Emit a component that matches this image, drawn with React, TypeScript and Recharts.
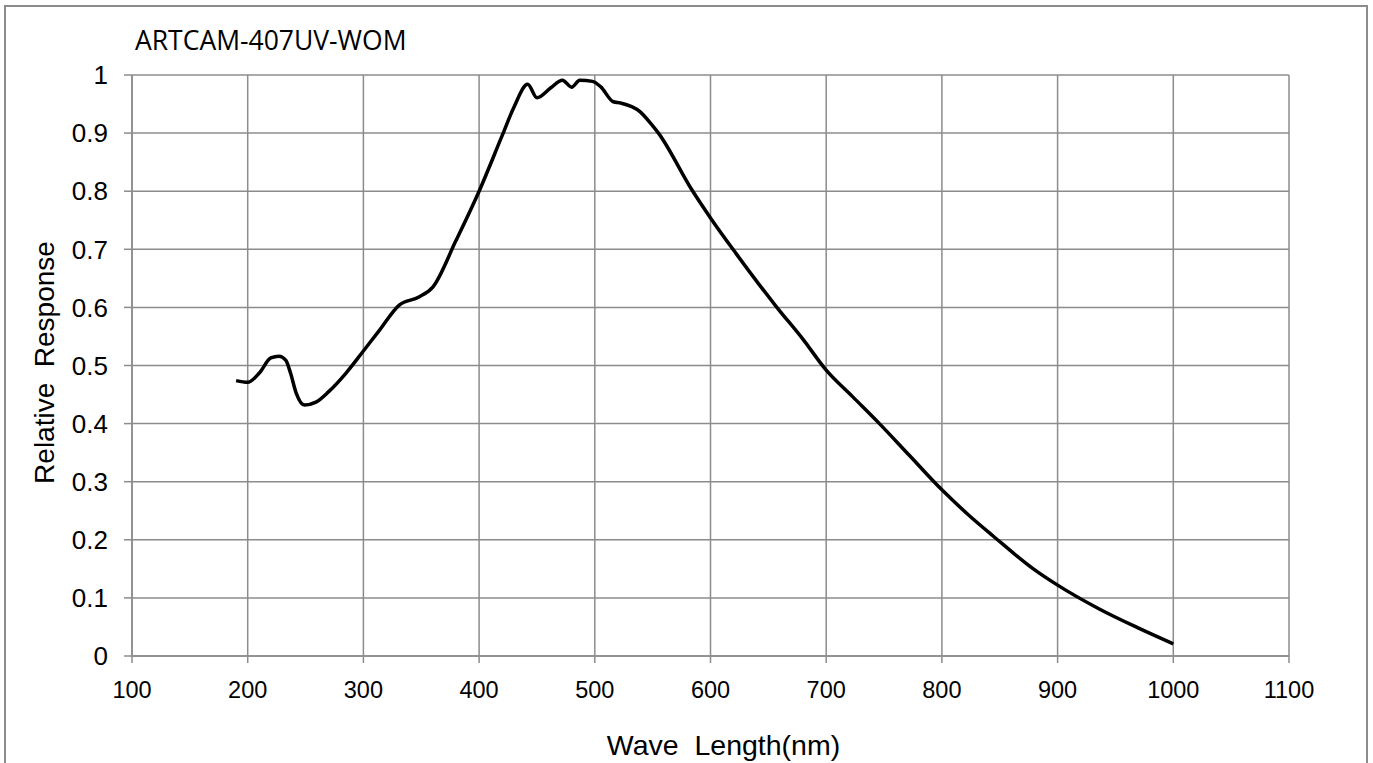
import { LineChart, Line, XAxis, YAxis, CartesianGrid, Label } from 'recharts';

// spectral response
const wavelengths = [
  190, 200, 210, 220, 227, 233, 237, 242, 249, 259, 270, 285, 300, 314, 331, 348, 360,
  380, 400, 420, 430, 442, 450, 462, 472, 480, 487, 498, 505, 516, 522, 539, 549, 555,
  584, 600, 622, 657, 680, 700, 723, 746, 772, 800, 824, 844, 879, 900, 936, 970, 1000,
];
const responses = [
  0.474, 0.471, 0.487, 0.513, 0.516, 0.509, 0.487, 0.452, 0.432, 0.437, 0.455, 0.487, 0.525, 0.561, 0.604, 0.618, 0.635,
  0.715, 0.8, 0.896, 0.944, 0.984, 0.961, 0.978, 0.991, 0.979, 0.991, 0.989, 0.98, 0.954, 0.952, 0.937, 0.915, 0.9,
  0.802, 0.754, 0.693, 0.601, 0.545, 0.492, 0.446, 0.4, 0.345, 0.286, 0.241, 0.207, 0.15, 0.122, 0.081, 0.048, 0.021,
];

const xTicks = [100, 200, 300, 400, 500, 600, 700, 800, 900, 1000, 1100];
const yTicks = [0, 0.1, 0.2, 0.3, 0.4, 0.5, 0.6, 0.7, 0.8, 0.9, 1];

const chartTitle = 'ARTCAM-407UV-WOM';
const xTitle = 'Wave  Length(nm)';
const yTitle = 'Relative  Response';

const data = wavelengths.map((nm, i) => ({ nm, response: responses[i] }));

const GRID = '#8c8c8c';
const FONT = '"Liberation Sans", Arial, sans-serif';

const YTitle = (props: any) => {
  const { viewBox } = props;
  const bx = 54;
  const cy = viewBox.y + viewBox.height / 2 - 3;
  return (
    <text
      x={bx}
      y={cy}
      transform={`rotate(-90, ${bx}, ${cy})`}
      textAnchor="middle"
      fill="#000"
      fontSize={28}
      fontFamily={FONT}
      style={{ whiteSpace: 'pre' }}
    >
      {yTitle}
    </text>
  );
};

const XTitle = (props: any) => {
  const { viewBox } = props;
  const cx = viewBox.x + viewBox.width / 2 + 13;
  return (
    <text
      x={cx}
      y={755}
      textAnchor="middle"
      fill="#000"
      fontSize={28.5}
      fontFamily={FONT}
      style={{ whiteSpace: 'pre' }}
    >
      {xTitle}
    </text>
  );
};

export default function App() {
  return (
    <div
      style={{
        position: 'absolute',
        left: 0,
        top: 0,
        width: 1373,
        height: 763,
        overflow: 'hidden',
        background: '#fff',
      }}
    >
      <div
        style={{
          position: 'absolute',
          left: 4,
          top: 5,
          width: 1364,
          height: 800,
          border: `2px solid ${GRID}`,
          boxSizing: 'border-box',
        }}
      />
      <div
        style={{
          position: 'absolute',
          left: 135,
          top: 22,
          fontFamily: '"Open Sans", sans-serif',
          fontSize: 26.5,
          color: '#000',
          whiteSpace: 'nowrap',
        }}
      >
        {chartTitle}
      </div>
      <div style={{ position: 'absolute', left: 0, top: 0 }}>
        <LineChart
          width={1373}
          height={763}
          data={data}
          margin={{ top: 75, right: 84, left: 0, bottom: 0 }}
        >
          <CartesianGrid stroke={GRID} strokeWidth={1.5} />
          <XAxis
            dataKey="nm"
            type="number"
            domain={[100, 1100]}
            ticks={xTicks}
            interval={0}
            height={107}
            tickSize={7}
            tickMargin={18}
            axisLine={{ stroke: GRID, strokeWidth: 1.5 }}
            tickLine={{ stroke: GRID, strokeWidth: 1.5 }}
            tick={{ fill: '#000', fontSize: 23.5, fontFamily: FONT }}
          >
            <Label content={<XTitle />} />
          </XAxis>
          <YAxis
            type="number"
            domain={[0, 1]}
            ticks={yTicks}
            interval={0}
            width={132}
            tickSize={8}
            tickMargin={16}
            tickFormatter={(v: number) => String(v)}
            axisLine={{ stroke: GRID, strokeWidth: 1.5 }}
            tickLine={{ stroke: GRID, strokeWidth: 1.5 }}
            tick={{ fill: '#000', fontSize: 26, fontFamily: FONT }}
          >
            <Label content={<YTitle />} />
          </YAxis>
          <Line
            type="monotone"
            dataKey="response"
            stroke="#000"
            strokeWidth={3.5}
            dot={false}
            isAnimationActive={false}
          />
        </LineChart>
      </div>
    </div>
  );
}
